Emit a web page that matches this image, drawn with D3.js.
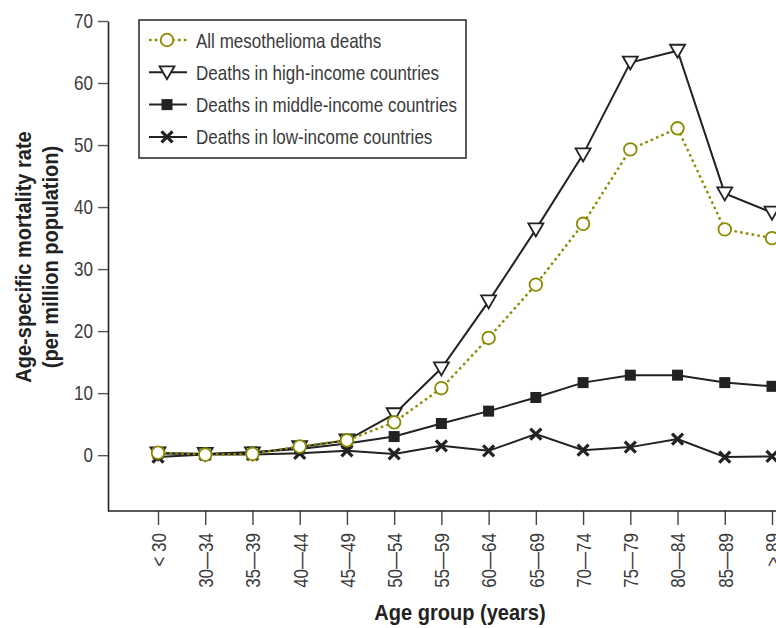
<!DOCTYPE html>
<html>
<head>
<meta charset="utf-8">
<script src="https://cdn.jsdelivr.net/npm/d3@7"></script>
<style>
  html, body { margin: 0; padding: 0; background: #fff; }
  svg { display: block; }
  text { font-family: "Liberation Sans", Arial, sans-serif; }
</style>
</head>
<body>
<svg id="chart" width="776" height="628"></svg>
<script>
const ageGroups = ["< 30", "30\u201434", "35\u201439", "40\u201444", "45\u201449", "50\u201454", "55\u201459", "60\u201464", "65\u201469", "70\u201474", "75\u201479", "80\u201484", "85\u201489", "> 89"];
const allDeaths    = [0.4, 0.1, 0.2, 1.4, 2.4, 5.3, 10.8, 18.9, 27.5, 37.3, 49.3, 52.7, 36.4, 35.0];
const highIncome   = [0.3, 0.2, 0.3, 1.3, 2.4, 6.6, 14.0, 24.8, 36.4, 48.5, 63.3, 65.2, 42.2, 39.1];
const middleIncome = [0.3, 0.2, 0.5, 1.0, 1.9, 3.0, 5.1, 7.1, 9.3, 11.7, 12.9, 12.9, 11.7, 11.1];
const lowIncome    = [-0.3, 0.1, 0.1, 0.3, 0.7, 0.2, 1.5, 0.7, 3.4, 0.8, 1.3, 2.6, -0.3, -0.2];
const yTicks = [0, 10, 20, 30, 40, 50, 60, 70];
const seriesNames = ["All mesothelioma deaths", "Deaths in high-income countries", "Deaths in middle-income countries", "Deaths in low-income countries"];

const W = 776, H = 628;
const svg = d3.select("#chart");
const olive = "#8c8a00";
const ink = "#222";
const textCol = "#3a3a3a";
const SQUEEZE = 0.81;

// condense text horizontally (the reference uses a condensed typeface)
function condense(sel, factor) {
  sel.each(function () {
    const len = this.getComputedTextLength();
    d3.select(this).attr("textLength", len * factor).attr("lengthAdjust", "spacingAndGlyphs");
  });
}

const x = d3.scalePoint().domain(ageGroups).range([158, 772]);
const y = d3.scaleLinear().domain([-9, 70]).range([511, 21]);

// Y axis
const yAxis = svg.append("g").attr("transform", "translate(108,0)")
  .call(d3.axisLeft(y).tickValues(yTicks).tickSize(10).tickSizeOuter(0).tickPadding(5));
yAxis.select(".domain").attr("stroke", ink).attr("stroke-width", 1.6);
yAxis.selectAll(".tick line").attr("stroke", "#555").attr("stroke-width", 1.4);
yAxis.selectAll(".tick text").attr("font-size", 21).attr("fill", textCol)
  .style("font-family", "'Liberation Sans', Arial, sans-serif");
condense(yAxis.selectAll(".tick text"), SQUEEZE);

// X axis
const xAxis = svg.append("g").attr("transform", "translate(0,511)")
  .call(d3.axisBottom(x).tickSize(14).tickSizeOuter(0).tickPadding(8));
xAxis.select(".domain").remove();
xAxis.append("line").attr("x1", 108).attr("x2", W + 10).attr("y1", 0).attr("y2", 0)
  .attr("stroke", ink).attr("stroke-width", 1.6);
xAxis.selectAll(".tick line").attr("stroke", "#444").attr("stroke-width", 1.4);
xAxis.selectAll(".tick text")
  .attr("font-size", 21).attr("fill", textCol)
  .style("font-family", "'Liberation Sans', Arial, sans-serif")
  .attr("text-anchor", "end")
  .attr("transform", "rotate(-90)")
  .attr("x", -22).attr("y", 0).attr("dy", "0.35em");
condense(xAxis.selectAll(".tick text"), SQUEEZE);

// Axis titles
const t1 = svg.append("text")
  .attr("transform", "translate(31,257) rotate(-90)")
  .attr("text-anchor", "middle").attr("font-size", 22).attr("font-weight", "bold").attr("fill", ink)
  .text("Age-specific mortality rate");
const t2 = svg.append("text")
  .attr("transform", "translate(58,257) rotate(-90)")
  .attr("text-anchor", "middle").attr("font-size", 22).attr("font-weight", "bold").attr("fill", ink)
  .text("(per million population)");
const t3 = svg.append("text")
  .attr("x", 460).attr("y", 620)
  .attr("text-anchor", "middle").attr("font-size", 22).attr("font-weight", "bold").attr("fill", ink)
  .text("Age group (years)");
condense(t1, 0.91); condense(t2, 0.91); condense(t3, 0.91);

// Marker drawing helpers
function drawMarker(g, type) {
  if (type === "circle") {
    g.append("circle").attr("r", 6.3).attr("fill", "#fff").attr("stroke", olive).attr("stroke-width", 1.8);
  } else if (type === "triangle") {
    g.append("path").attr("d", "M-7.5,-6 L7.5,-6 L0,7 Z").attr("fill", "#fff").attr("stroke", ink).attr("stroke-width", 1.8);
  } else if (type === "square") {
    g.append("rect").attr("x", -5.5).attr("y", -5.5).attr("width", 11).attr("height", 11).attr("fill", ink);
  } else if (type === "x") {
    g.append("path").attr("d", "M-5.5,-5.5 L5.5,5.5 M-5.5,5.5 L5.5,-5.5").attr("stroke", ink).attr("stroke-width", 3.2).attr("fill", "none");
  }
}

const series = [
  { name: seriesNames[0], values: allDeaths, color: olive, dash: "2.6,3.2", width: 2.4, marker: "circle" },
  { name: seriesNames[1], values: highIncome, color: ink, dash: null, width: 2, marker: "triangle" },
  { name: seriesNames[2], values: middleIncome, color: ink, dash: null, width: 2, marker: "square" },
  { name: seriesNames[3], values: lowIncome, color: ink, dash: null, width: 2, marker: "x" }
];

const line = d3.line().x((d, i) => x(ageGroups[i])).y(d => y(d));

const drawOrder = [3, 2, 1, 0];
drawOrder.forEach(si => {
  const s = series[si];
  svg.append("path").datum(s.values)
    .attr("d", line).attr("fill", "none")
    .attr("stroke", s.color).attr("stroke-width", s.width)
    .attr("stroke-dasharray", s.dash);
});
drawOrder.forEach(si => {
  const s = series[si];
  s.values.forEach((v, i) => {
    const g = svg.append("g").attr("transform", `translate(${x(ageGroups[i])},${y(v)})`);
    drawMarker(g, s.marker);
  });
});

// Legend
const legend = svg.append("g");
legend.append("rect").attr("x", 139).attr("y", 20).attr("width", 327).attr("height", 138)
  .attr("fill", "#fff").attr("stroke", "#333").attr("stroke-width", 1.6);
series.forEach((s, i) => {
  const cy = 40 + i * 32.3;
  legend.append("line").attr("x1", 149).attr("x2", 187).attr("y1", cy).attr("y2", cy)
    .attr("stroke", s.color).attr("stroke-width", s.width).attr("stroke-dasharray", s.dash);
  const g = legend.append("g").attr("transform", `translate(167,${cy})`);
  drawMarker(g, s.marker);
  const t = legend.append("text").attr("x", 196).attr("y", cy).attr("dy", "0.36em")
    .attr("font-size", 21).attr("fill", textCol).text(s.name);
  condense(t, SQUEEZE);
});
</script>
</body>
</html>
